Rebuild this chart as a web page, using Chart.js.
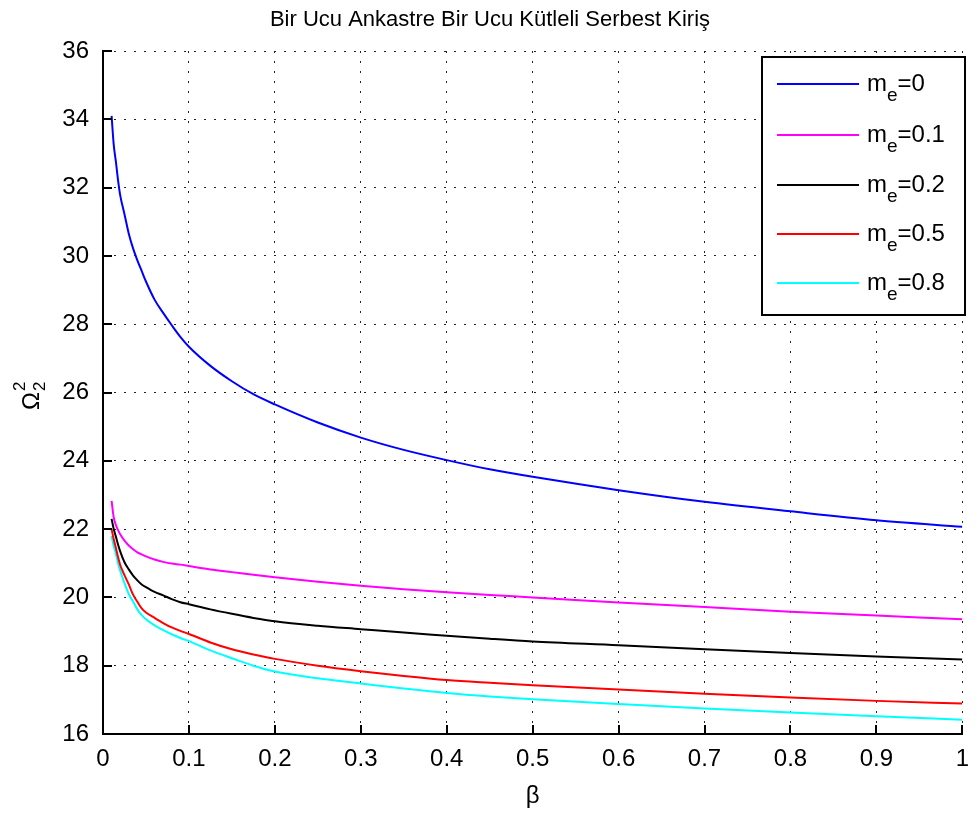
<!DOCTYPE html>
<html>
<head>
<meta charset="utf-8">
<script src="https://cdn.jsdelivr.net/npm/chart.js@4.4.1/dist/chart.umd.min.js"></script>
<style>
  html, body { margin: 0; padding: 0; background: #fff; }
  canvas { display: block; }
</style>
</head>
<body>
<canvas id="chart" width="980" height="813"></canvas>
<script>
// beta degerleri (x ekseni)
const beta = [0.01, 0.0125, 0.015, 0.0175, 0.02, 0.025, 0.03, 0.035, 0.04, 0.045,
  0.05, 0.06, 0.07, 0.08, 0.09, 0.1, 0.125, 0.15, 0.175, 0.2,
  0.25, 0.3, 0.35, 0.4, 0.45, 0.5, 0.6, 0.7, 0.8, 0.9, 1.0];

// Omega_2^2 degerleri, her m_e icin
const me0 = [34.1, 33.25, 32.76, 32.22, 31.78, 31.22, 30.65, 30.22, 29.87, 29.56,
  29.25, 28.72, 28.33, 27.97, 27.63, 27.34, 26.78, 26.33, 25.95, 25.65,
  25.12, 24.68, 24.32, 24.02, 23.75, 23.53, 23.14, 22.8, 22.52, 22.26, 22.07];
const me01 = [22.83, 22.34, 22.12, 21.97, 21.85, 21.66, 21.52, 21.41, 21.32, 21.26,
  21.2, 21.11, 21.04, 20.99, 20.96, 20.92, 20.82, 20.74, 20.66, 20.59,
  20.46, 20.34, 20.24, 20.15, 20.07, 20.0, 19.85, 19.72, 19.58, 19.47, 19.36];
const me02 = [22.3, 22.0, 21.78, 21.55, 21.35, 21.03, 20.82, 20.64, 20.5, 20.38,
  20.3, 20.16, 20.06, 19.95, 19.86, 19.8, 19.65, 19.52, 19.4, 19.3,
  19.17, 19.07, 18.97, 18.88, 18.79, 18.71, 18.6, 18.48, 18.37, 18.27, 18.18];
const me05 = [22.0, 21.7, 21.45, 21.18, 20.95, 20.65, 20.38, 20.08, 19.87, 19.68,
  19.56, 19.4, 19.25, 19.12, 19.02, 18.93, 18.68, 18.48, 18.33, 18.2,
  18.0, 17.84, 17.7, 17.58, 17.5, 17.43, 17.3, 17.18, 17.07, 16.97, 16.89];
const me08 = [21.8, 21.5, 21.28, 21.0, 20.78, 20.42, 20.1, 19.88, 19.65, 19.48,
  19.36, 19.18, 19.04, 18.92, 18.81, 18.72, 18.45, 18.22, 18.0, 17.83,
  17.63, 17.48, 17.33, 17.2, 17.1, 17.02, 16.88, 16.75, 16.63, 16.52, 16.42];

const seriesNames = ['0', '0.1', '0.2', '0.5', '0.8'];
const seriesValues = [me0, me01, me02, me05, me08];
const seriesColors = ['#0000ff', '#ff00ff', '#000000', '#ff0000', '#00ffff'];

const FONT = '"Liberation Sans", Arial, Helvetica, sans-serif';
const FS = 22;
const TICK_FS = 24;

// eksen cizgisine iceri dogru tik isaretleri
const inwardTicks = {
  id: 'inwardTicks',
  afterDraw(chart) {
    const { ctx, chartArea, scales } = chart;
    ctx.save();
    ctx.strokeStyle = '#000';
    ctx.lineWidth = 2;
    scales.x.ticks.forEach(t => {
      const px = Math.round(scales.x.getPixelForValue(t.value));
      ctx.beginPath();
      ctx.moveTo(px, chartArea.bottom);
      ctx.lineTo(px, chartArea.bottom - 9);
      ctx.stroke();
    });
    scales.y.ticks.forEach(t => {
      const py = Math.round(scales.y.getPixelForValue(t.value));
      ctx.beginPath();
      ctx.moveTo(chartArea.left, py);
      ctx.lineTo(chartArea.left + 9, py);
      ctx.stroke();
    });
    ctx.restore();
  }
};

// baslik, eksen yazilari ve lejant (alt indisli)
const labels = {
  id: 'labels',
  afterDraw(chart) {
    const { ctx, chartArea } = chart;
    const cx = (chartArea.left + chartArea.right) / 2;
    ctx.save();
    ctx.fillStyle = '#000';
    ctx.font = `${FS}px ${FONT}`;
    ctx.textAlign = 'center';
    ctx.textBaseline = 'middle';
    ctx.fillText('Bir Ucu Ankastre Bir Ucu Kütleli Serbest Kiriş', chart.width / 2, 20);
    ctx.font = `${TICK_FS}px ${FONT}`;
    ctx.fillText('β', cx, 796);

    // y ekseni etiketi: Omega_2^2
    ctx.save();
    ctx.translate(39, 410);
    ctx.rotate(-Math.PI / 2);
    ctx.textAlign = 'left';
    ctx.textBaseline = 'alphabetic';
    ctx.font = `${TICK_FS}px ${FONT}`;
    ctx.fillText('Ω', 0, 0);
    const w = ctx.measureText('Ω').width;
    ctx.font = `17px ${FONT}`;
    ctx.fillText('2', w + 1, 6);
    ctx.fillText('2', w + 1, -14);
    ctx.restore();

    // lejant
    const lx = 762, ly = 57, lw = 203, lh = 258;
    ctx.fillStyle = '#fff';
    ctx.fillRect(lx, ly, lw, lh);
    ctx.strokeStyle = '#000';
    ctx.lineWidth = 2;
    ctx.strokeRect(lx, ly, lw, lh);
    const rows = [84, 135, 185, 234, 283];
    ctx.textAlign = 'left';
    ctx.textBaseline = 'alphabetic';
    seriesNames.forEach((name, i) => {
      const y = rows[i];
      ctx.strokeStyle = seriesColors[i];
      ctx.lineWidth = 2;
      ctx.beginPath();
      ctx.moveTo(777, y);
      ctx.lineTo(859, y);
      ctx.stroke();
      ctx.fillStyle = '#000';
      ctx.font = `${TICK_FS}px ${FONT}`;
      let x = 867;
      ctx.fillText('m', x, y + 7);
      x += ctx.measureText('m').width;
      ctx.font = `19px ${FONT}`;
      ctx.fillText('e', x, y + 17);
      x += ctx.measureText('e').width;
      ctx.font = `${TICK_FS}px ${FONT}`;
      ctx.fillText('=' + name, x, y + 7);
    });
    ctx.restore();
  }
};

const datasets = seriesValues.map((vals, i) => ({
  label: 'me=' + seriesNames[i],
  data: beta.map((b, j) => ({ x: b, y: vals[j] })),
  borderColor: seriesColors[i],
  backgroundColor: seriesColors[i],
  borderWidth: 2,
  pointRadius: 0,
  fill: false,
  cubicInterpolationMode: 'monotone'
}));

new Chart(document.getElementById('chart'), {
  type: 'line',
  data: { datasets },
  options: {
    responsive: false,
    animation: false,
    devicePixelRatio: 1,
    layout: { padding: { left: 0, right: 6, top: 51, bottom: 0 } },
    plugins: {
      legend: { display: false },
      title: { display: false },
      tooltip: { enabled: false }
    },
    scales: {
      x: {
        type: 'linear',
        min: 0,
        max: 1,
        ticks: {
          stepSize: 0.1,
          color: '#000',
          font: { family: FONT, size: TICK_FS },
          padding: 11,
          maxRotation: 0,
          callback: v => String(Number(v.toFixed(1)))
        },
        grid: { color: '#222', lineWidth: 1, drawTicks: false },
        border: { display: true, color: '#000', width: 2, dash: [2, 8] },
        afterFit: s => { s.height = 79; }
      },
      y: {
        type: 'linear',
        min: 16,
        max: 36,
        ticks: {
          stepSize: 2,
          color: '#000',
          font: { family: FONT, size: TICK_FS },
          padding: 14
        },
        grid: { color: '#222', lineWidth: 1, drawTicks: false },
        border: { display: true, color: '#000', width: 2, dash: [2, 8] },
        afterFit: s => { s.width = 103; }
      }
    }
  },
  plugins: [inwardTicks, labels]
});
</script>
</body>
</html>
